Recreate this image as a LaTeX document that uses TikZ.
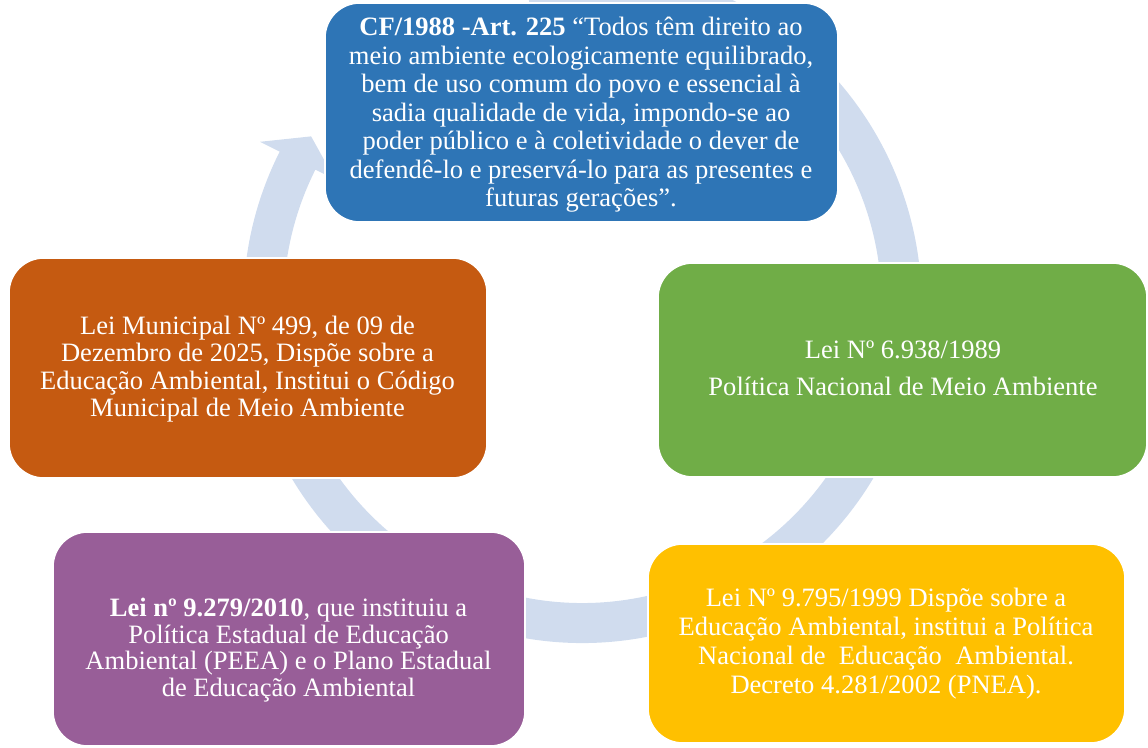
\documentclass[tikz,border=0pt]{standalone}
\usepackage{fontspec}
\setmainfont{Liberation Serif}
\usetikzlibrary{calc}
\definecolor{cblue}{HTML}{2E75B6}
\definecolor{cgreen}{HTML}{70AD47}
\definecolor{cyellow}{HTML}{FFC000}
\definecolor{corange}{HTML}{C55A11}
\definecolor{cpurple}{HTML}{985E98}
\definecolor{cring}{HTML}{D0DCEE}
\begin{document}
\begin{tikzpicture}[x=0.75pt,y=0.75pt,
  box/.style={rectangle, rounded corners=26pt, draw=white, line width=1.2pt, inner sep=0pt},
  txt/.style={text=white, align=center, inner sep=0pt},
  fs/.style={font=\fontsize{19.9}{#1}\selectfont}]
\useasboundingbox (0,0) rectangle (1148,747);
% cycle arrow
\coordinate (c) at (582.5,443);
\fill[cring] ($(c)+(153.3:339)$) arc[start angle=153.3,end angle=460,radius=339]
  -- ($(c)+(460:299)$) arc[start angle=460,end angle=153.3,radius=299]
  -- ($(c)+(153.3:277)$) -- ($(c)+(148.3:319)$) -- ($(c)+(153.3:361)$) -- cycle;
% boxes
\node[box, fill=cblue, minimum width=384.75pt, minimum height=164.25pt] (blue) at (581.5,634.5) {};
\node[box, fill=cgreen, minimum width=366.75pt, minimum height=160.5pt] (green) at (902.5,377) {};
\node[box, fill=cyellow, minimum width=357.75pt, minimum height=149.25pt] (yellow) at (886.5,103.5) {};
\node[box, fill=cpurple, minimum width=354pt, minimum height=160.5pt] (purple) at (289,108) {};
\node[box, fill=corange, minimum width=358.5pt, minimum height=165pt] (orange) at (248,379) {};
% texts
\node[txt, fs=21.4pt] (tblue) at (581,632) {\textbf{CF/1988 -Art. 225} “Todos têm direito ao\\
meio ambiente ecologicamente equilibrado,\\
bem de uso comum do povo e essencial à\\
sadia qualidade de vida, impondo-se ao\\
poder público e à coletividade o dever de\\
defendê-lo e preservá-lo para as presentes e\\
futuras gerações”.};
\node[txt, fs=27.75pt] (tgreen) at (903,378.5) {Lei Nº 6.938/1989\\
Política Nacional de Meio Ambiente};
\node[txt, fs=21.75pt] (tyellow) at (886,103.5) {Lei Nº 9.795/1999 Dispõe sobre a\\
Educação Ambiental, institui a Política\\
Nacional de\ \ Educação\ \ Ambiental.\\
Decreto 4.281/2002 (PNEA).};
\node[txt, fs=20pt] (tpurple) at (288.5,97) {\textbf{Lei nº 9.279/2010}, que instituiu a\\
Política Estadual de Educação\\
Ambiental (PEEA) e o Plano Estadual\\
de Educação Ambiental};
\node[txt, fs=20.5pt] (torange) at (247.5,378) {Lei Municipal Nº 499, de 09 de\\
Dezembro de 2025, Dispõe sobre a\\
Educação Ambiental, Institui o Código\\
Municipal de Meio Ambiente};
\end{tikzpicture}
\end{document}
